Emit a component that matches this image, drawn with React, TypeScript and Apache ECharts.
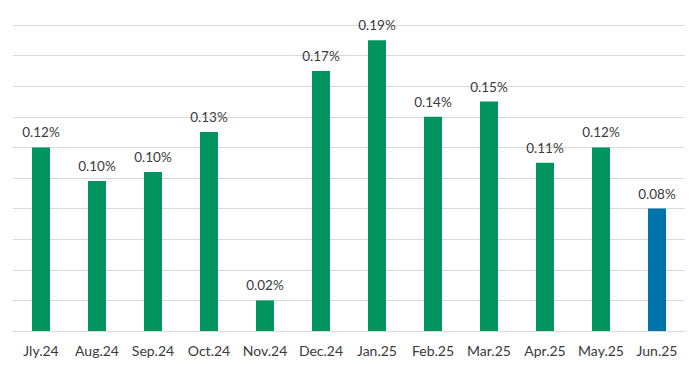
import React, { useEffect, useRef } from "react";
import * as echarts from "echarts";

const categories = ["Jly.24", "Aug.24", "Sep.24", "Oct.24", "Nov.24", "Dec.24", "Jan.25", "Feb.25", "Mar.25", "Apr.25", "May.25", "Jun.25"];
const values = [0.12, 0.098, 0.104, 0.13, 0.02, 0.17, 0.19, 0.14, 0.15, 0.11, 0.12, 0.08];
const highlightIndex = 11;

const GREEN = "#00945e";
const BLUE = "#0074a8";

export default function App() {
  const ref = useRef<HTMLDivElement>(null);
  useEffect(() => {
    if (!ref.current) return;
    const chart = echarts.init(ref.current, null, { renderer: "svg" });
    chart.setOption({
      animation: false,
      textStyle: { fontFamily: "Lato, 'Noto Sans', sans-serif" },
      grid: { left: 13, right: 15, top: 25, bottom: 42, containLabel: false },
      xAxis: {
        type: "category",
        data: categories,
        axisLine: { show: true, lineStyle: { color: "#d9d9d9", width: 1 } },
        axisTick: { show: false },
        axisLabel: { color: "#3a3a3a", fontSize: 14, margin: 12, interval: 0 },
      },
      yAxis: {
        type: "value",
        min: 0,
        max: 0.2,
        interval: 0.02,
        axisLabel: { show: false },
        axisLine: { show: false },
        axisTick: { show: false },
        splitLine: { show: true, lineStyle: { color: "#d9d9d9", width: 1 } },
      },
      series: [
        {
          type: "bar",
          data: values.map((v, i) => ({
            value: v,
            itemStyle: { color: i === highlightIndex ? BLUE : GREEN },
          })),
          barWidth: 18,
          label: {
            show: true,
            position: "top",
            distance: 8,
            color: "#3a3a3a",
            fontSize: 13.5,
            formatter: (p: any) => p.value.toFixed(2) + "%",
          },
        },
      ],
    });
    return () => chart.dispose();
  }, []);
  return <div ref={ref} style={{ width: 700, height: 373, position: "absolute", left: 0, top: 0, background: "#fff" }} />;
}
